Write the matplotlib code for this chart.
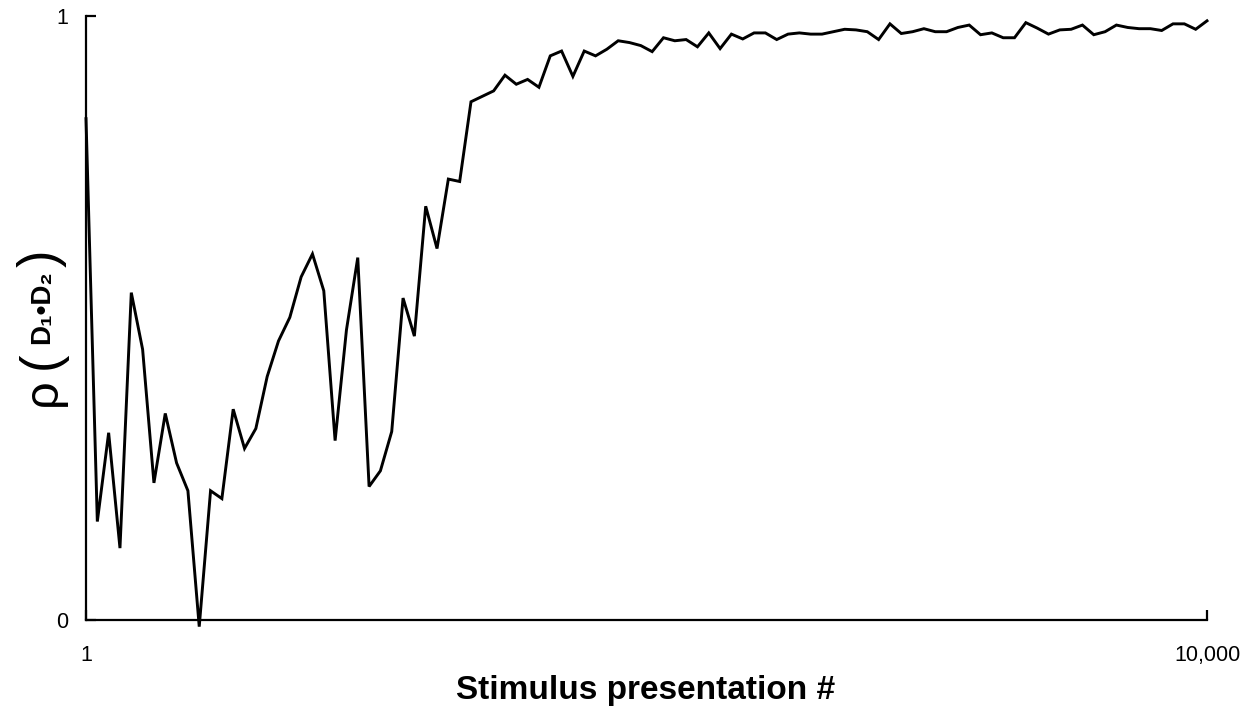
import numpy as np
import matplotlib.pyplot as plt

# correlation between the two distance matrices
rho = [
    0.830, 0.163, 0.310, 0.119, 0.542, 0.448, 0.227, 0.342, 0.260, 0.214,
    -0.011, 0.214, 0.201, 0.349, 0.284, 0.317, 0.403, 0.462, 0.501, 0.568,
    0.606, 0.545, 0.297, 0.480, 0.600, 0.221, 0.247, 0.312, 0.533, 0.470,
    0.685, 0.615, 0.730, 0.726, 0.858, 0.867, 0.876, 0.902, 0.887, 0.895,
    0.882, 0.934, 0.942, 0.900, 0.942, 0.934, 0.945, 0.959, 0.956, 0.951,
    0.941, 0.964, 0.959, 0.961, 0.949, 0.972, 0.946, 0.970, 0.962, 0.972,
    0.972, 0.961, 0.970, 0.972, 0.970, 0.970, 0.974, 0.978, 0.977, 0.974,
    0.961, 0.987, 0.971, 0.974, 0.979, 0.974, 0.974, 0.981, 0.985, 0.969,
    0.972, 0.964, 0.964, 0.989, 0.980, 0.970, 0.977, 0.978, 0.985, 0.969,
    0.974, 0.985, 0.981, 0.979, 0.979, 0.976, 0.987, 0.987, 0.978, 0.992,
]
first_presentation = 1
last_presentation = 10000
x_ticks = [1, 10000]
x_ticklabels = ["1", "10,000"]
y_ticks = [0, 1]
y_ticklabels = ["0", "1"]

# presentations are sampled evenly between the first and the last one
presentation = np.linspace(first_presentation, last_presentation, len(rho))

plt.rcParams["font.family"] = ["Liberation Sans", "DejaVu Sans"]

fig = plt.figure(figsize=(12.48, 7.06), dpi=100)
ax = fig.add_axes([86 / 1248, 86 / 706, 1121 / 1248, 604 / 706])

ax.plot(presentation, rho, color="black", linewidth=2.1, clip_on=False,
        solid_joinstyle="miter")

ax.set_xlim(first_presentation, last_presentation)
ax.set_ylim(0, 1)
ax.set_xticks(x_ticks)
ax.set_xticklabels(x_ticklabels)
ax.set_yticks(y_ticks)
ax.set_yticklabels(y_ticklabels)

for side in ("top", "right"):
    ax.spines[side].set_visible(False)
for side in ("left", "bottom"):
    ax.spines[side].set_linewidth(1.6)
    ax.spines[side].set_color("black")

ax.tick_params(axis="both", direction="in", length=7, width=1.6,
               labelsize=15.5, colors="black")
ax.tick_params(axis="x", pad=18)
ax.tick_params(axis="y", pad=13)

fig.text(646 / 1248, 1 - 690 / 706, "Stimulus presentation #",
         ha="center", va="center", fontsize=24, fontweight="bold")

# y label built from pieces: rho, big parentheses, bold D1*D2
fig.text(43 / 1248, 1 - 392 / 706, "ρ", rotation=90, ha="center",
         va="center", fontsize=35)
fig.text(42 / 1248, 1 - 360 / 706, "(", rotation=90, ha="center",
         va="center", fontsize=38)
fig.text(42 / 1248, 1 - 307 / 706, "D₁•D₂", rotation=90, ha="center",
         va="center", fontsize=20, fontweight="bold")
fig.text(42 / 1248, 1 - 258 / 706, ")", rotation=90, ha="center",
         va="center", fontsize=38)

fig.savefig("out.png", dpi=100)
